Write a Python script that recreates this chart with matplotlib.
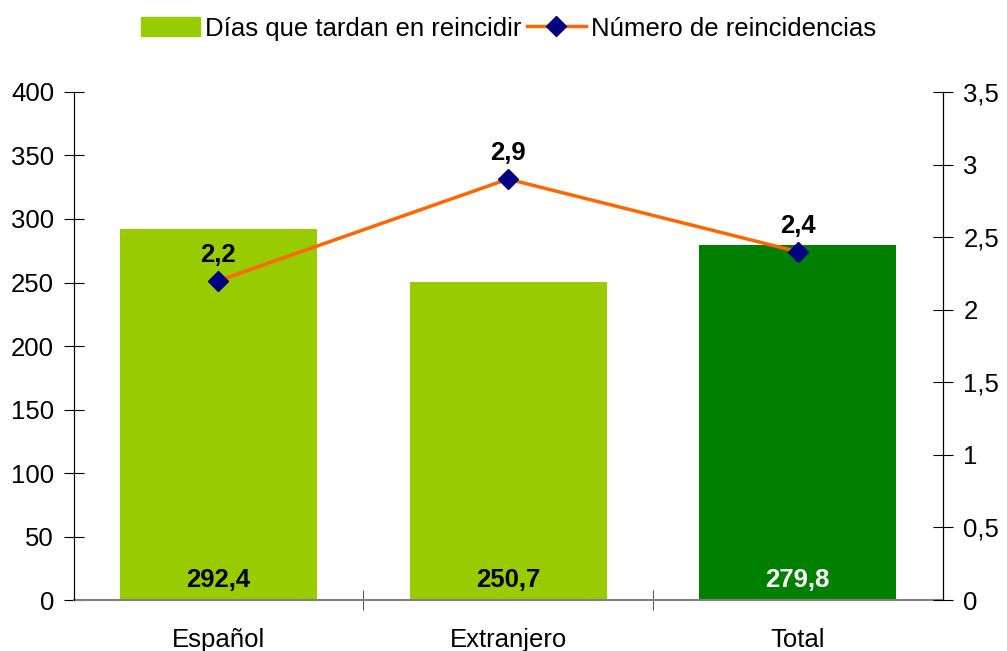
import matplotlib.pyplot as plt
from matplotlib.ticker import FuncFormatter, MultipleLocator
from matplotlib.lines import Line2D
from matplotlib.patches import Patch

plt.rcParams['font.family'] = ['Liberation Sans', 'DejaVu Sans']

categories = ["Español", "Extranjero", "Total"]
dias = [292.4, 250.7, 279.8]
reincidencias = [2.2, 2.9, 2.4]
bar_colors = ['#99CC00', '#99CC00', '#008000']
bar_label_colors = ['black', 'black', 'white']

FS = 18.5


def comma(v, pos=None):
    s = ('%g' % v)
    return s.replace('.', ',')


fig = plt.figure(figsize=(10.07, 6.51), dpi=100)
ax1 = fig.add_axes([0.073, 0.0783, 0.863, 0.7804])

x = list(range(len(categories)))
ax1.bar(x, dias, width=0.68, color=bar_colors, zorder=2)
ax1.set_xlim(-0.5, 2.5)
ax1.set_ylim(0, 400)
ax1.yaxis.set_major_locator(MultipleLocator(50))
ax1.set_xticks(x)
ax1.set_xticklabels(categories, fontsize=FS)
ax1.set_xticks([0.5, 1.5], minor=True)
ax1.tick_params(axis='x', which='major', length=0, pad=20)
ax1.tick_params(axis='x', which='minor', direction='inout', length=14, color='#333333')
ax1.tick_params(axis='y', direction='inout', length=14, labelsize=FS, pad=7)
ax1.spines['top'].set_visible(False)
ax1.spines['bottom'].set_color('#808080')
ax1.spines['bottom'].set_linewidth(1.5)

for xi, v, c in zip(x, dias, bar_label_colors):
    ax1.annotate(comma(v), (xi, 0), xytext=(0, 6), textcoords='offset points',
                 ha='center', va='bottom', fontsize=FS, fontweight='bold', color=c)

ax2 = ax1.twinx()
ax2.plot(x, reincidencias, color='#FF6600', linewidth=2.5, marker='D', markersize=10.5,
         markerfacecolor='#000080', markeredgecolor='#000080', zorder=3)
ax2.set_ylim(0, 3.5)
ax2.yaxis.set_major_locator(MultipleLocator(0.5))
ax2.yaxis.set_major_formatter(FuncFormatter(comma))
ax2.tick_params(axis='y', direction='inout', length=14, labelsize=FS, pad=8)
ax2.spines['top'].set_visible(False)
ax2.spines['bottom'].set_visible(False)

for xi, v in zip(x, reincidencias):
    ax2.annotate(comma(v), (xi, v), xytext=(0, 10), textcoords='offset points',
                 ha='center', va='bottom', fontsize=FS, fontweight='bold')

handles = [Patch(color='#99CC00', label='Días que tardan en reincidir'),
           Line2D([0], [0], color='#FF6600', linewidth=2.5, marker='D', markersize=10.5,
                  markerfacecolor='#000080', markeredgecolor='#000080',
                  label='Número de reincidencias')]
fig.legend(handles=handles, loc='upper center', bbox_to_anchor=(0.505, 1.01), ncol=2,
           frameon=False, fontsize=FS, handlelength=2.3, handleheight=0.75,
           columnspacing=0.2, handletextpad=0.2)

fig.savefig('out.png', dpi=100)
